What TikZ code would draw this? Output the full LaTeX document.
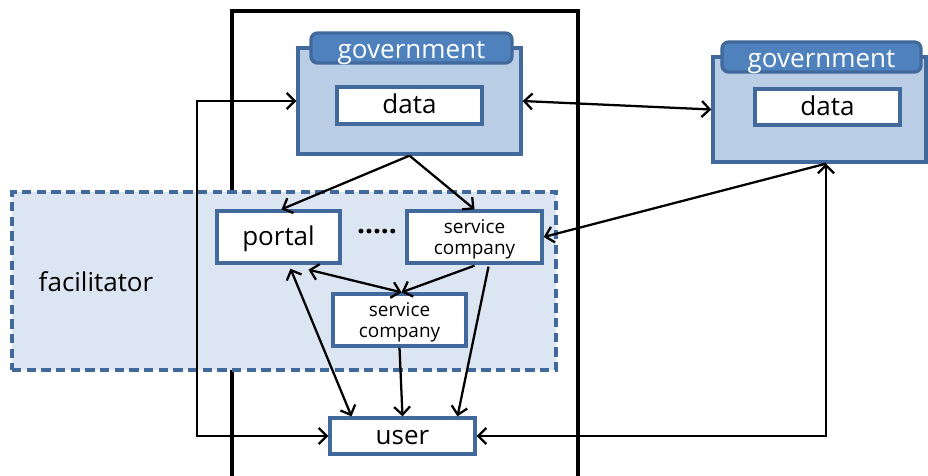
\documentclass[tikz,border=0pt]{standalone}
\usepackage{fontspec}
\setmainfont{Open Sans}
\usetikzlibrary{arrows.meta,calc}
\definecolor{bordblue}{HTML}{41699B}
\definecolor{tabblue}{HTML}{4F81BD}
\definecolor{bodyblue}{HTML}{B9CDE5}
\definecolor{facblue}{HTML}{DCE6F2}
\tikzset{
  bigtext/.style={font=\fontsize{19.5}{21}\selectfont, text height=15pt, text depth=3pt},
  smalltext/.style={font=\fontsize{14.2}{15.5}\selectfont, align=center, text depth=0pt},
  govbody/.style={draw=bordblue, fill=bodyblue, line width=2.5pt, inner sep=0pt},
  govtab/.style={draw=bordblue, fill=tabblue, line width=2.5pt, rounded corners=5pt, inner sep=0pt, text=white, font=\fontsize{19.5}{21}\selectfont, text height=16pt, text depth=1pt},
  whitebox/.style={draw=bordblue, fill=white, line width=2.5pt, inner sep=0pt},
  conn/.style={line width=1.7pt, draw=black, -{Straight Barb[length=6pt,width=12pt,line width=1.7pt]}},
  bconn/.style={line width=1.7pt, draw=black, {Straight Barb[length=6pt,width=12pt,line width=1.7pt]}-{Straight Barb[length=6pt,width=12pt,line width=1.7pt]}},
}
\begin{document}
\begin{tikzpicture}[x=0.75pt,y=-0.75pt]
\useasboundingbox (0,0) rectangle (928,475);
% big frame
\coordinate (fbl) at (232,480);
\coordinate (ftl) at (232,11);
\coordinate (ftr) at (578,11);
\coordinate (fbr) at (578,480);
\draw[line width=2.7pt] (fbl) -- (ftl) -- (ftr) -- (fbr);
% facilitator
\node[draw=bordblue, fill=facblue, dashed, dash pattern=on 7pt off 4pt, line width=2.4pt,
  minimum width=544*0.75pt, minimum height=178*0.75pt, inner sep=0pt] (fac) at (284,281) {};
\node[bigtext] (factext) at (96,283) {facilitator};
% government 1
\node[govbody, minimum width=223*0.75pt, minimum height=106*0.75pt] (gov1) at (409.5,101) {};
\node[govtab, minimum width=201*0.75pt, minimum height=30*0.75pt] (tab1) at (411.5,48) {government};
\node[whitebox, bigtext, minimum width=145*0.75pt, minimum height=37*0.75pt] (data1) at (409.5,105.5) {data};
% government 2
\node[govbody, minimum width=213*0.75pt, minimum height=105*0.75pt] (gov2) at (819.5,109.5) {};
\node[govtab, minimum width=199*0.75pt, minimum height=30*0.75pt] (tab2) at (821.5,57) {government};
\node[whitebox, bigtext, minimum width=145*0.75pt, minimum height=36*0.75pt] (data2) at (827.5,107) {data};
% inner boxes
\node[whitebox, bigtext, minimum width=123*0.75pt, minimum height=52*0.75pt] (portal) at (278.5,237) {portal};
\node[font=\bfseries\fontsize{21}{22}\selectfont] (dots) at (377,232) {.....};
\node[whitebox, smalltext, minimum width=135*0.75pt, minimum height=52*0.75pt] (sc1) at (474.5,237) {service\\company};
\node[whitebox, smalltext, minimum width=133*0.75pt, minimum height=52*0.75pt] (sc2) at (399.5,320) {service\\company};
\node[whitebox, bigtext, minimum width=145*0.75pt, minimum height=36*0.75pt] (user) at (402.5,436) {user};
% coordinates
\coordinate (g2b) at ($(gov2.south)+(6.5,0)$);
\coordinate (lc) at (197,101);
% connectors
\draw[conn] (gov1.south) -- ($(portal.north)+(3,0)$);
\draw[conn] (gov1.south) -- (sc1.north);
\draw[bconn] (gov1.east) -- (gov2.west);
\draw[conn] (g2b) -- (sc1.east);
\draw[bconn] (user.east) -| (g2b);
\draw[bconn] (gov1.west) -- (lc) |- (user.west);
\draw[bconn] ($(portal.south)+(30,5)$) -- ($(sc2.north)+(2,0)$);
\draw[conn] ($(sc1.south)+(0,1)$) -- ($(sc2.north)+(2,0)$);
\draw[bconn] ($(portal.south)+(12,4)$) -- ($(user.north)+(-51,0)$);
\draw[conn] (sc2.south) -- (user.north);
\draw[conn] ($(sc1.south)+(14,2)$) -- ($(user.north)+(55,0)$);
\end{tikzpicture}
\end{document}
